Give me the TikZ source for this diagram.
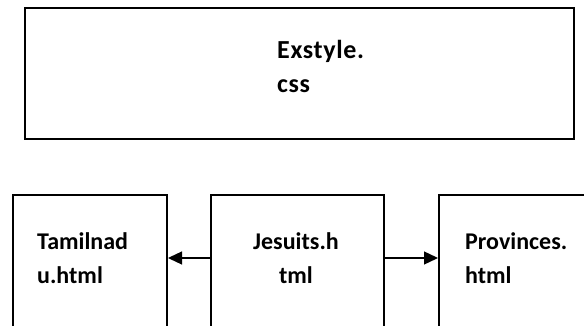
\documentclass[tikz,border=0pt]{standalone}
\usepackage{fontspec}
\setmainfont{Carlito}
\newfontfamily\widefont[LetterSpace=2.5]{Carlito}
\usepackage{tikz}
\usetikzlibrary{calc, arrows.meta}
\tikzstyle{arrow} = [line width=1.3pt,-{Triangle[length=14pt,width=13pt]}]

\begin{document}
\begin{tikzpicture}[
    x=1pt, y=-1pt,
    page/.style={draw, line width=2pt, anchor=north west, inner sep=0pt},
    ftext/.style={anchor=base west, inner sep=0pt, font=\fontsize{24}{33}\selectfont\bfseries, align=left},
    ttext/.style={ftext, font=\widefont\fontsize{26}{33}\selectfont\bfseries},
  ]
  \useasboundingbox (0,0) rectangle (584,326);
  \node[page, minimum width=549pt, minimum height=131pt] (exstyle) at (24,7) {};
  \node[page, minimum width=154pt, minimum height=180pt] (tamil) at (12,194) {};
  \node[page, minimum width=173pt, minimum height=180pt] (jesuits) at (210,194) {};
  \node[page, minimum width=180pt, minimum height=180pt] (prov) at (438,194) {};
  % file names
  \node[ttext] (extxt) at (277,59) {Exstyle.};
  \node[ttext] (cssxt) at (277,93) {css};
  \node[ftext] (tamtxt) at (37,249) {Tamilnad};
  \node[ftext] (tamtxt2) at (37,283) {u.html};
  \node[ftext, anchor=base] (jestxt) at (296,249) {Jesuits.h};
  \node[ftext, anchor=base] (jestxt2) at (296,283) {tml};
  \node[ftext] (provtxt) at (465,249) {Provinces.};
  \node[ftext] (provtxt2) at (465,283) {html};
  % links
  \coordinate (row) at (0,258);
  \draw[arrow] (jesuits.west |- row) -- (tamil.east |- row);
  \draw[arrow] (jesuits.east |- row) -- (prov.west |- row);
\end{tikzpicture}
\end{document}
